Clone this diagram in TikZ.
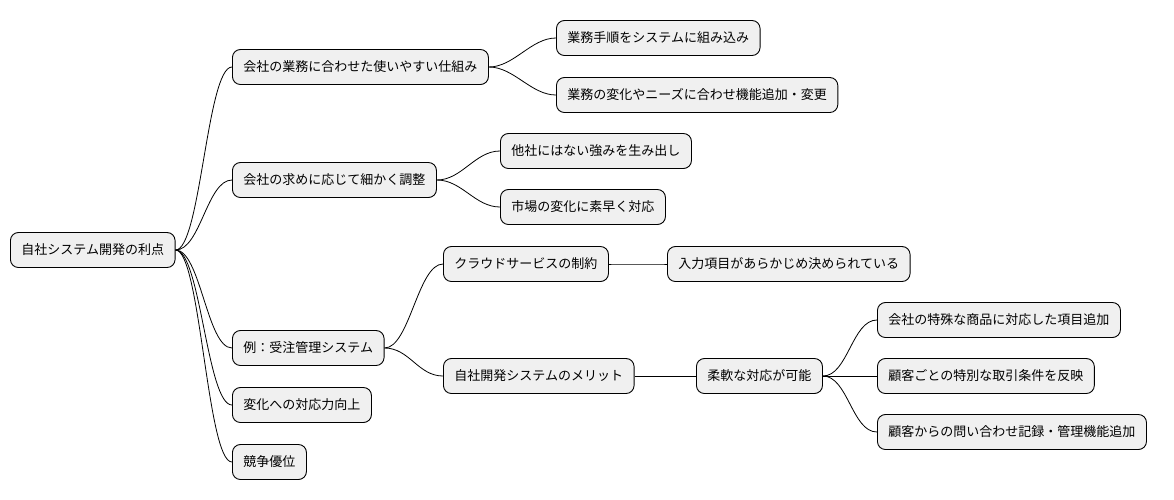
\documentclass[tikz,border=0pt]{standalone}
\usepackage{fontspec}
\setmainfont{Noto Sans CJK JP}
\begin{document}
\begin{tikzpicture}[x=1pt,y=-1pt,
  box/.style={draw=black,fill=black!6,rounded corners=8pt,line width=0.9pt,
    inner xsep=11pt,minimum height=35pt,anchor=west,font=\fontsize{13}{15}\selectfont},
  ln/.style={line width=0.8pt}]
\useasboundingbox (0,0) rectangle (1174,499);
\node[box] (r) at (10,250) {自社システム開発の利点};
\node[box] (a) at (232,67) {会社の業務に合わせた使いやすい仕組み};
\node[box] (a1) at (556,38) {業務手順をシステムに組み込み};
\node[box] (a2) at (556,95) {業務の変化やニーズに合わせ機能追加・変更};
\node[box] (b) at (232,180) {会社の求めに応じて細かく調整};
\node[box] (b1) at (500,151) {他社にはない強みを生み出し};
\node[box] (b2) at (500,207) {市場の変化に素早く対応};
\node[box] (c) at (232,348) {例：受注管理システム};
\node[box] (c1) at (443,264) {クラウドサービスの制約};
\node[box] (c11) at (667,264) {入力項目があらかじめ決められている};
\node[box] (c2) at (443,376) {自社開発システムのメリット};
\node[box] (c21) at (696,376) {柔軟な対応が可能};
\node[box] (d1) at (877,320) {会社の特殊な商品に対応した項目追加};
\node[box] (d2) at (877,376) {顧客ごとの特別な取引条件を反映};
\node[box] (d3) at (877,432) {顧客からの問い合わせ記録・管理機能追加};
\node[box] (e) at (232,405) {変化への対応力向上};
\node[box] (f) at (232,462) {競争優位};
\foreach \p/\c in {r/a,r/b,r/c,r/e,r/f,a/a1,a/a2,b/b1,b/b2,c/c1,c/c2,c1/c11,c2/c21,c21/d1,c21/d2,c21/d3}
  \draw[ln] (\p.east) .. controls +(25,0) and +(-25,0) .. (\c.west);
\end{tikzpicture}
\end{document}
